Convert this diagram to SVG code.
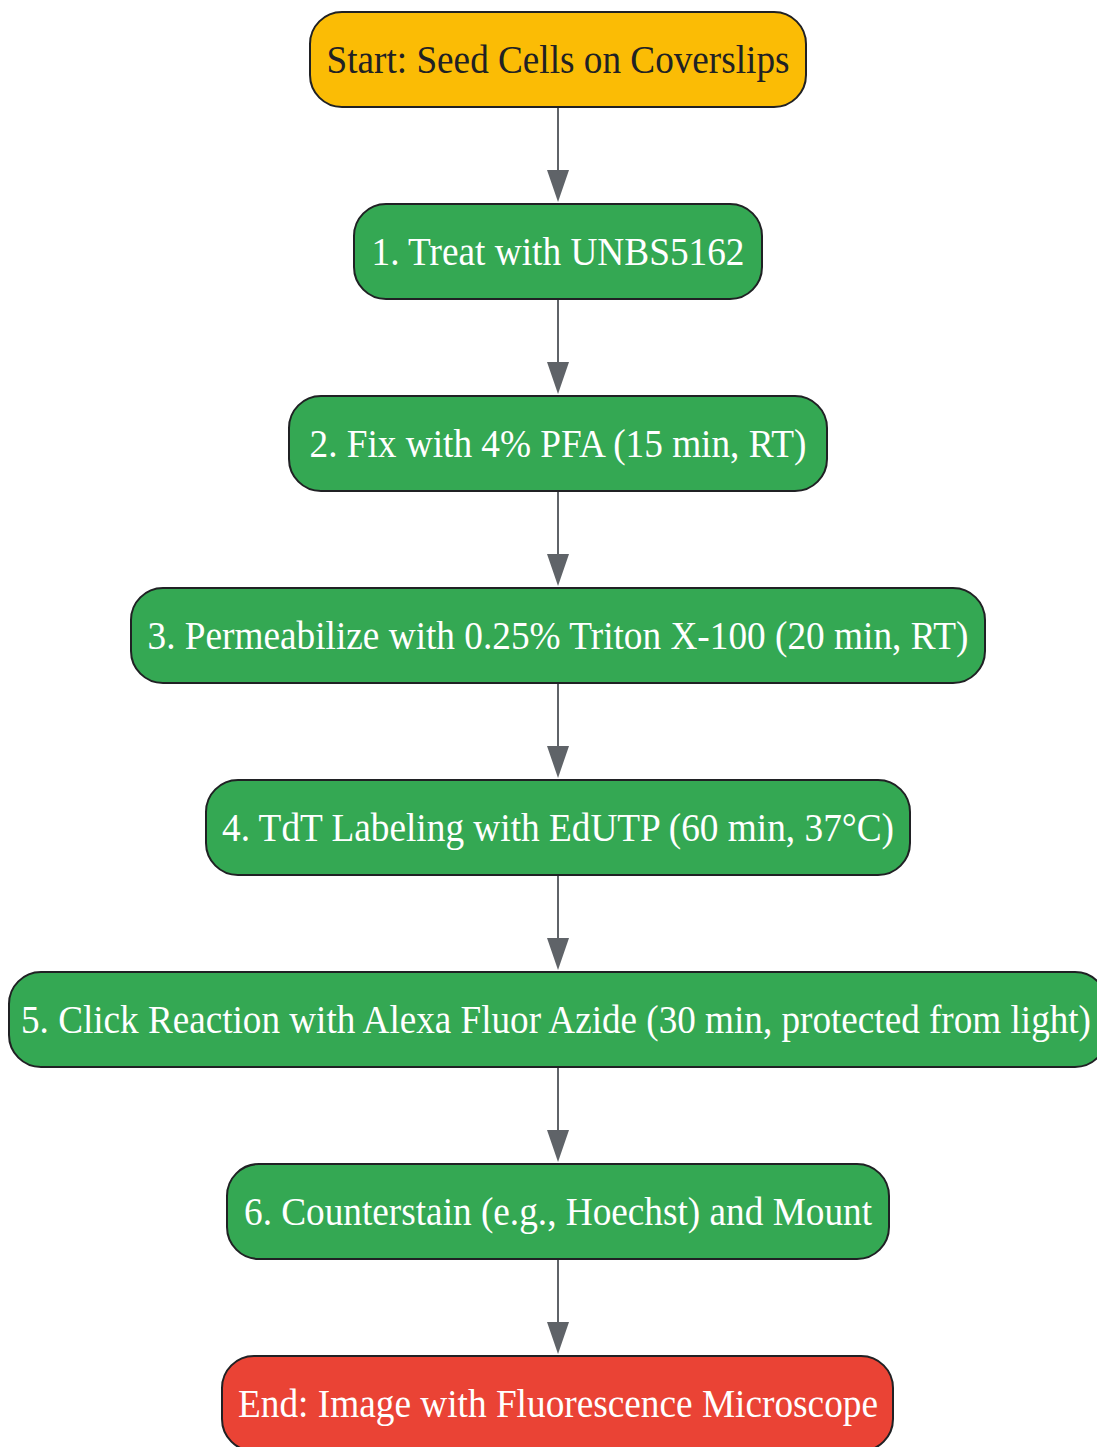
<svg xmlns="http://www.w3.org/2000/svg" width="1097" height="1447" viewBox="0 0 1097 1447">
<style>
.node rect{stroke:#202124;stroke-width:2}
.start rect{fill:#FBBC05}
.step rect{fill:#34A853}
.end rect{fill:#EA4335}
text{font-family:"Liberation Serif","Times New Roman",serif;font-size:40px;text-anchor:middle}
.start text{fill:#202124}
.step text,.end text{fill:#ffffff}
.edge{stroke:#5f6368;stroke-width:2;fill:none;marker-end:url(#arr)}
</style>
<defs>
<marker id="arr" viewBox="0 0 32 22" refX="0" refY="11" markerWidth="32" markerHeight="22" markerUnits="userSpaceOnUse" orient="auto">
<path d="M0,0 L32,11 L0,22 Z" fill="#5f6368"/>
</marker>
</defs>
<g id="connectors">
<line class="edge" x1="558" y1="107" x2="558" y2="170"/>
<line class="edge" x1="558" y1="299" x2="558" y2="362"/>
<line class="edge" x1="558" y1="491" x2="558" y2="554"/>
<line class="edge" x1="558" y1="683" x2="558" y2="746"/>
<line class="edge" x1="558" y1="875" x2="558" y2="938"/>
<line class="edge" x1="558" y1="1067" x2="558" y2="1130"/>
<line class="edge" x1="558" y1="1259" x2="558" y2="1322"/>
</g>
<g id="start" class="node start">
<rect x="310" y="12" width="496" height="95" rx="32"/>
<text x="558" y="73" textLength="463" lengthAdjust="spacingAndGlyphs">Start: Seed Cells on Coverslips</text>
</g>
<g id="step1" class="node step">
<rect x="354" y="204" width="408" height="95" rx="32"/>
<text x="558" y="265" textLength="373" lengthAdjust="spacingAndGlyphs">1. Treat with UNBS5162</text>
</g>
<g id="step2" class="node step">
<rect x="289" y="396" width="538" height="95" rx="32"/>
<text x="558" y="457" textLength="497" lengthAdjust="spacingAndGlyphs">2. Fix with 4% PFA (15 min, RT)</text>
</g>
<g id="step3" class="node step">
<rect x="131" y="588" width="854" height="95" rx="32"/>
<text x="558" y="649" textLength="821" lengthAdjust="spacingAndGlyphs">3. Permeabilize with 0.25% Triton X-100 (20 min, RT)</text>
</g>
<g id="step4" class="node step">
<rect x="206" y="780" width="704" height="95" rx="32"/>
<text x="558" y="841" textLength="672" lengthAdjust="spacingAndGlyphs">4. TdT Labeling with EdUTP (60 min, 37°C)</text>
</g>
<g id="step5" class="node step">
<rect x="9" y="972" width="1098" height="95" rx="32"/>
<text x="556" y="1033" textLength="1070" lengthAdjust="spacingAndGlyphs">5. Click Reaction with Alexa Fluor Azide (30 min, protected from light)</text>
</g>
<g id="step6" class="node step">
<rect x="227" y="1164" width="662" height="95" rx="32"/>
<text x="558" y="1225" textLength="628" lengthAdjust="spacingAndGlyphs">6. Counterstain (e.g., Hoechst) and Mount</text>
</g>
<g id="end" class="node end">
<rect x="222" y="1356" width="671" height="95" rx="32"/>
<text x="558" y="1417" textLength="640" lengthAdjust="spacingAndGlyphs">End: Image with Fluorescence Microscope</text>
</g>
</svg>
